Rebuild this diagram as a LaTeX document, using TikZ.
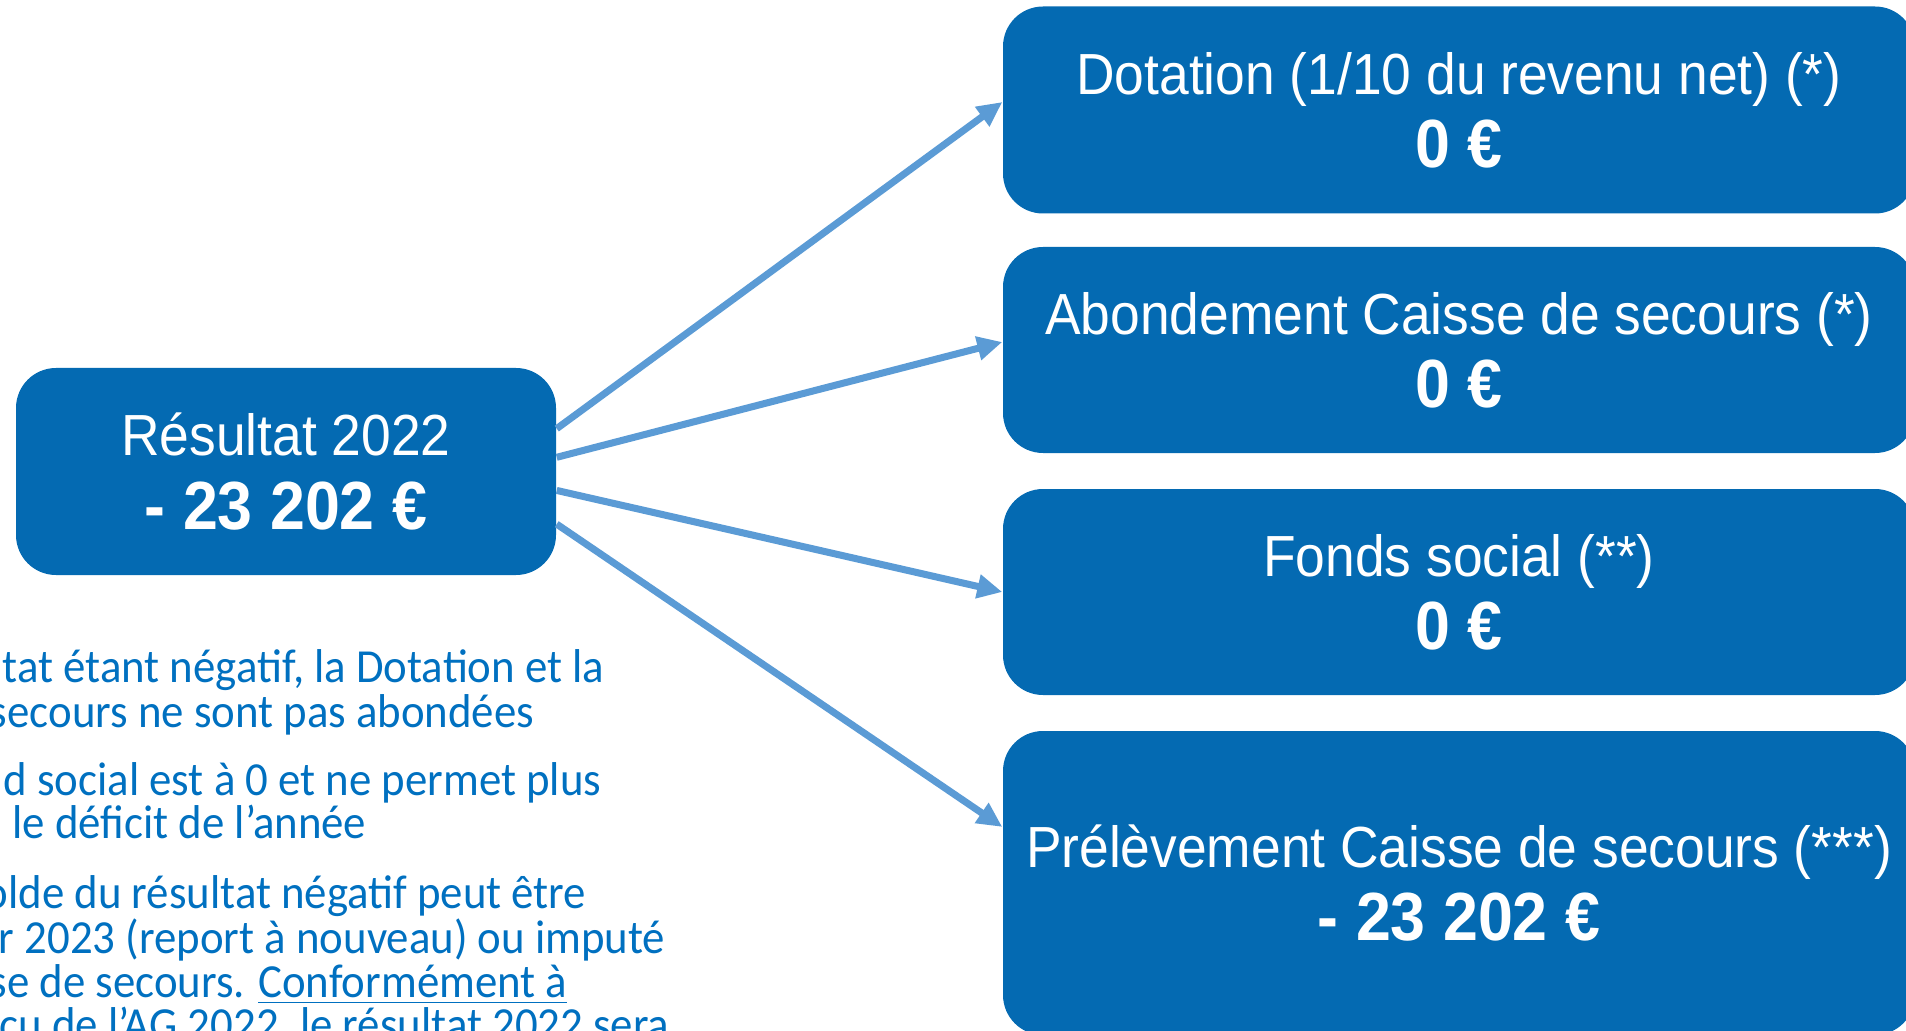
\documentclass[tikz,border=0pt]{standalone}
\usepackage{fontspec}
\setmainfont{Liberation Sans}[FakeStretch=0.92]
\newfontfamily\notefont{Carlito}[FakeStretch=0.945]
\usetikzlibrary{arrows.meta}

\definecolor{boxblue}{RGB}{4,106,178}
\definecolor{arrowblue}{RGB}{91,155,213}
\definecolor{noteblue}{RGB}{0,112,192}
\newcommand{\valfont}{\bfseries\fontsize{19.4pt}{20.8pt}\selectfont}

\begin{document}
\begin{tikzpicture}[
		box/.style={fill=boxblue, text=white, rounded corners=0.4cm, inner sep=0pt, align=center, font=\fontsize{16.5pt}{20.8pt}\selectfont},
		link/.style={->, arrowblue, line width=2pt},
		note/.style={anchor=base east, text=noteblue, inner sep=0pt, font=\notefont\fontsize{13.5pt}{16pt}\selectfont},
		>={Triangle[length=0.25cm, width=0.23cm]}
	]
			\useasboundingbox (0, 0) rectangle (19.06, 10.30);
			
			\node[box, minimum width=5.4cm, minimum height=2.07cm] (res) at (2.86, 5.585) {Résultat 2022\\{\valfont - 23 202 €}};
			
			\node[box, minimum width=9.12cm, minimum height=2.07cm] (dot) at (14.59, 9.20) {Dotation (1/10 du revenu net) (*)\\{\valfont 0 €}};
			\node[box, minimum width=9.12cm, minimum height=2.06cm] (abo) at (14.59, 6.80) {Abondement Caisse de secours (*)\\{\valfont 0 €}};
			\node[box, minimum width=9.12cm, minimum height=2.06cm] (fonds) at (14.59, 4.38) {Fonds social (**)\\{\valfont 0 €}};
			\node[box, minimum width=9.12cm, minimum height=3.04cm] (prel) at (14.59, 1.47) {Prélèvement Caisse de secours (***)\\{\valfont - 23 202 €}};
			
			\draw[link] (res.9) -- (dot.179);
			\draw[link] (res.3) -- (abo.179);
			\draw[link] (res.-4) -- (fonds.west);
			\draw[link] (res.-11) -- (prel.173);
			
			\node[note] (note1) at (6.05, 3.48) {tat étant négatif, la Dotation et la};
			\node[note] (note2) at (5.35, 3.03) {secours ne sont pas abondées};
			
			\node[note] (note3) at (6.02, 2.35) {d social est à 0 et ne permet plus};
			\node[note] (note4) at (3.67, 1.92) {le déficit de l’année};
			
			\node[note] (note5) at (5.87, 1.22) {olde du résultat négatif peut être};
			\node[note] (note6) at (6.66, 0.77) {r 2023 (report à nouveau) ou imputé};
			\node[note] (note7) at (5.68, 0.33) {se de secours. \underline{Conformément à}};
			\node[note] (note8) at (6.70, -0.10) {cu de l’AG 2022, le résultat 2022 sera};
		\end{tikzpicture}
\end{document}
